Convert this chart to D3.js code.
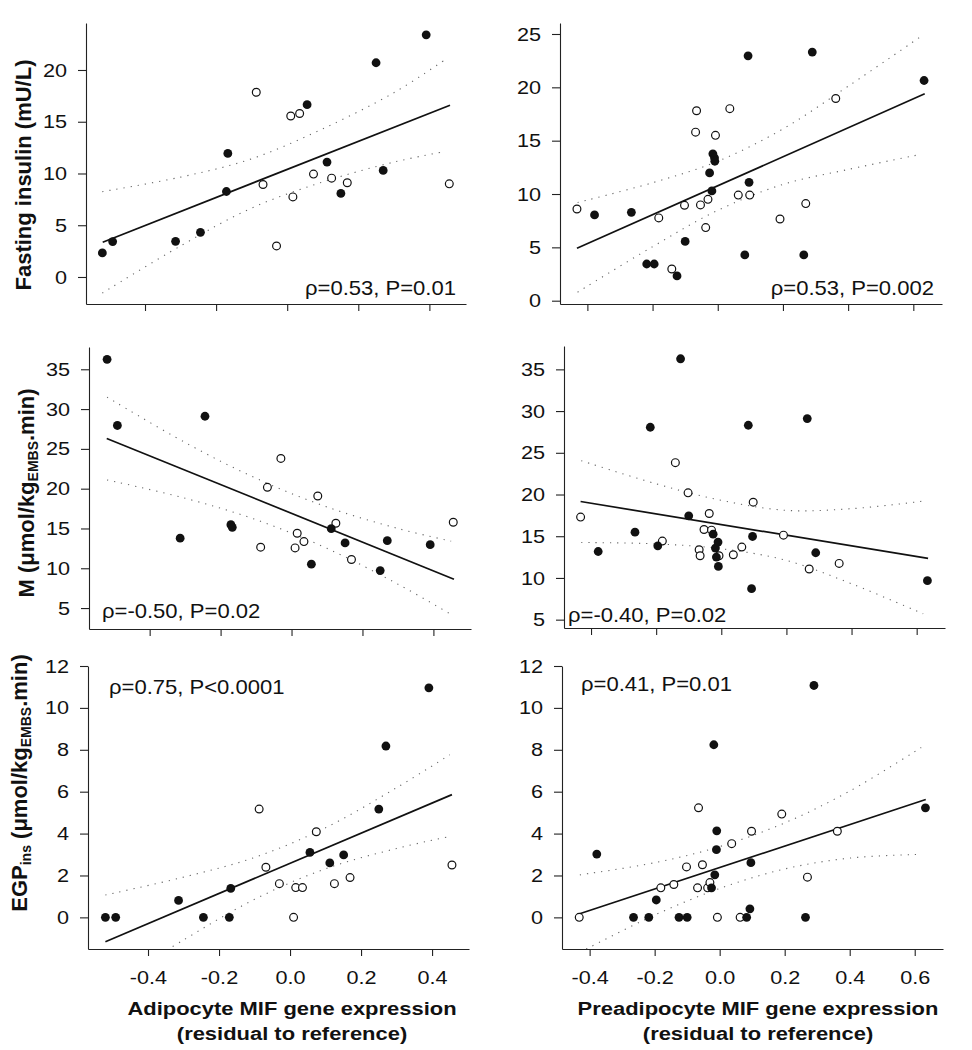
<!DOCTYPE html>
<html>
<head>
<meta charset="utf-8">
<script src="https://cdnjs.cloudflare.com/ajax/libs/d3/7.8.5/d3.min.js"></script>
<style>
  body { margin: 0; background: #fff; }
  svg text { font-family: "Liberation Sans", Arial, Helvetica, sans-serif; fill: #111; }
</style>
</head>
<body>
<script>
//-----------------------------------------data------------------------------------------
// same subjects in every panel of a column: x values are shared, y per outcome

var adipoOpenX   = [-0.087, -0.068, -0.030, 0.010, 0.016, 0.035, 0.074, 0.125, 0.169, 0.456];
var adipoFilledX = [-0.520, -0.491, -0.314, -0.244, -0.171, -0.167, 0.056, 0.112, 0.151, 0.250, 0.270, 0.391];

var preOpenX   = [-0.432, -0.181, -0.141, -0.102, -0.068, -0.065, -0.053, -0.037, -0.030, -0.007, 0.037, 0.063, 0.098, 0.191, 0.270, 0.362];
var preFilledX = [-0.378, -0.265, -0.218, -0.195, -0.125, -0.100, -0.025, -0.018, -0.015, -0.010, -0.009, 0.083, 0.093, 0.096, 0.264, 0.290, 0.633];

// fasting insulin (mU/L)
var insulinAdipoOpen   = [17.85, 8.94, 3.0, 15.55, 7.74, 15.8, 9.94, 9.55, 9.1, 9.0];
var insulinAdipoFilled = [2.32, 3.42, 3.45, 4.32, 8.26, 11.94, 16.65, 11.1, 8.07, 20.7, 10.3, 23.4];
var insulinPreOpen     = [8.6, 7.76, 2.97, 8.94, 15.8, 17.8, 8.98, 6.85, 9.5, 15.5, 18.0, 9.9, 9.9, 7.66, 9.1, 18.95];
var insulinPreFilled   = [8.04, 8.28, 3.44, 3.44, 2.32, 5.56, 11.98, 10.29, 13.77, 13.39, 13.07, 4.29, 22.95, 11.1, 4.29, 23.3, 20.64];

// M (umol/kgEMBS.min)
var mAdipoOpen   = [12.65, 20.17, 23.8, 12.56, 14.4, 13.35, 19.08, 15.65, 11.1, 15.78];
var mAdipoFilled = [36.25, 27.94, 13.78, 29.1, 15.48, 15.15, 10.52, 14.98, 13.19, 9.71, 13.47, 12.97];
var mPreOpen     = [17.29, 14.42, 23.82, 20.2, 13.38, 12.66, 15.8, 17.72, 15.73, 12.66, 12.78, 13.7, 19.08, 15.13, 11.07, 11.74];
var mPreFilled   = [13.17, 15.49, 28.06, 13.85, 36.27, 17.44, 15.25, 13.58, 12.5, 14.3, 11.38, 28.3, 8.71, 14.97, 29.1, 13.02, 9.67];

// EGPins (umol/kgEMBS.min)
var egpAdipoOpen   = [5.17, 2.39, 1.61, 0, 1.42, 1.42, 4.09, 1.61, 1.9, 2.5];
var egpAdipoFilled = [0, 0, 0.81, 0, 0, 1.38, 3.1, 2.6, 2.98, 5.17, 8.18, 10.96];
var egpPreOpen     = [0, 1.41, 1.57, 2.41, 1.41, 5.23, 2.51, 1.41, 1.66, 0, 3.52, 0, 4.11, 4.93, 1.92, 4.11];
var egpPreFilled   = [3.02, 0, 0, 0.83, 0, 0, 1.41, 8.24, 2.03, 3.23, 4.13, 0, 0.41, 2.61, 0, 11.07, 5.23];

// regression lines [x, y] ends
var insulinAdipoFit = [[-0.519, 3.36], [0.458, 16.6]];
var insulinPreFit   = [[-0.432, 4.91], [0.635, 19.39]];
var mAdipoFit       = [[-0.521, 26.31], [0.458, 8.63]];
var mPreFit         = [[-0.432, 19.16], [0.635, 12.34]];
var egpAdipoFit     = [[-0.520, -1.16], [0.456, 5.86]];
var egpPreFit       = [[-0.433, 0.16], [0.634, 5.63]];

// 95% bands: [x, lower, upper]
var insulinAdipoBand = [[-0.52, -1.55, 8.25], [-0.3, 3.0, 9.65], [-0.1, 6.66, 11.42], [0.1, 9.18, 14.32], [0.3, 11.1, 17.8], [0.44, 12.1, 20.9]];
var insulinPreBand   = [[-0.43, 0.8, 9.2], [-0.2, 5.06, 11.06], [0, 8.47, 13.07], [0.2, 10.9, 16.1], [0.4, 12.3, 20.1], [0.62, 13.7, 24.7]];
var mAdipoBand       = [[-0.52, 21.1, 31.5], [-0.3, 18.8, 25.8], [-0.1, 16.1, 21.3], [0.1, 12.5, 17.7], [0.3, 8.0, 15.0], [0.45, 4.2, 13.4]];
var mPreBand         = [[-0.43, 14.25, 24.05], [-0.2, 14.08, 21.28], [0, 13.5, 19.3], [0.2, 12.1, 18.1], [0.4, 9.3, 18.3], [0.62, 5.7, 19.2]];
var egpAdipoBand     = [[-0.52, -3.39, 1.07], [-0.3, -1.08, 1.92], [-0.1, 0.86, 2.86], [0.1, 2.32, 4.28], [0.3, 3.29, 6.19], [0.45, 3.86, 7.76]];
var egpPreBand       = [[-0.43, -1.67, 2.03], [-0.2, 0.11, 2.61], [0, 1.38, 3.38], [0.2, 2.31, 4.51], [0.4, 2.83, 6.03], [0.62, 3.01, 8.11]];

// ticks
var adipoTicks   = [-0.4, -0.2, 0.0, 0.2, 0.4];
var preTicks     = [-0.4, -0.2, 0.0, 0.2, 0.4, 0.6];
var insulinTicks = [0, 5, 10, 15, 20];
var insulinTicks2 = [0, 5, 10, 15, 20, 25];
var mTicks       = [5, 10, 15, 20, 25, 30, 35];
var egpTicks     = [0, 2, 4, 6, 8, 10, 12];

var stats = ["\u03c1=0.53, P=0.01", "\u03c1=0.53, P=0.002", "\u03c1=-0.50, P=0.02",
             "\u03c1=-0.40, P=0.02", "\u03c1=0.75, P<0.0001", "\u03c1=0.41, P=0.01"];

//-----------------------------------------SVG-------------------------------------------

var svg = d3.select("body")
  .append("svg")
  .attr("width", 972)
  .attr("height", 1050)
  .style("background", "#fff");

//-----------------------------------------panels----------------------------------------

var panels = [
  { l: 86,  r: 466, t: 23,  b: 304, xd: [-0.566, 0.503], yd: [-2.61, 24.54], xt: adipoTicks, yt: insulinTicks,
    ox: adipoOpenX, oy: insulinAdipoOpen, fx: adipoFilledX, fy: insulinAdipoFilled, fit: insulinAdipoFit, band: insulinAdipoBand,
    stat: stats[0], sx: 456, sy: 295, sa: "end", labels: false },
  { l: 560, r: 942, t: 23,  b: 304, xd: [-0.484, 0.688], yd: [-0.31, 26.03], xt: preTicks, yt: insulinTicks2,
    ox: preOpenX, oy: insulinPreOpen, fx: preFilledX, fy: insulinPreFilled, fit: insulinPreFit, band: insulinPreBand,
    stat: stats[1], sx: 934, sy: 295, sa: "end", labels: false },
  { l: 89,  r: 471, t: 347, b: 629, xd: [-0.571, 0.506], yd: [2.37, 37.8], xt: adipoTicks, yt: mTicks,
    ox: adipoOpenX, oy: mAdipoOpen, fx: adipoFilledX, fy: mAdipoFilled, fit: mAdipoFit, band: mAdipoBand,
    stat: stats[2], sx: 102, sy: 618, sa: "start", labels: false },
  { l: 564, r: 945, t: 346, b: 628, xd: [-0.483, 0.687], yd: [4.0, 37.8], xt: preTicks, yt: mTicks,
    ox: preOpenX, oy: mPreOpen, fx: preFilledX, fy: mPreFilled, fit: mPreFit, band: mPreBand,
    stat: stats[3], sx: 568, sy: 622, sa: "start", labels: false },
  { l: 88,  r: 469, t: 666, b: 949, xd: [-0.569, 0.504], yd: [-1.51, 12], xt: adipoTicks, yt: egpTicks,
    ox: adipoOpenX, oy: egpAdipoOpen, fx: adipoFilledX, fy: egpAdipoFilled, fit: egpAdipoFit, band: egpAdipoBand,
    stat: stats[4], sx: 109, sy: 694, sa: "start", labels: true },
  { l: 562, r: 943, t: 666, b: 949, xd: [-0.485, 0.687], yd: [-1.51, 12], xt: preTicks, yt: egpTicks,
    ox: preOpenX, oy: egpPreOpen, fx: preFilledX, fy: egpPreFilled, fit: egpPreFit, band: egpPreBand,
    stat: stats[5], sx: 581, sy: 691, sa: "start", labels: true }
];

// stretch horizontal text a little (the original figure is wider than tall)
function stretchText(sel, k) {
  sel.each(function() {
    var t = d3.select(this);
    var tx = +t.attr("x") || 0, ty = +t.attr("y") || 0;
    t.attr("x", 0).attr("y", 0)
     .attr("transform", "translate(" + tx + "," + ty + ") scale(" + k + ",1)");
  });
}

panels.forEach(function(p, i) {

  var x = d3.scaleLinear().domain(p.xd).range([p.l, p.r]);
  var y = d3.scaleLinear().domain(p.yd).range([p.b, p.t]);

  var g = svg.append("g").attr("class", "panel");

  g.append("clipPath")
    .attr("id", "clip" + i)
    .append("rect")
    .attr("x", p.l).attr("y", p.t)
    .attr("width", p.r - p.l).attr("height", p.b - p.t);

  //------------------------confidence bands--------------------------
  [1, 2].forEach(function(k) {
    g.append("path")
      .datum(p.band)
      .attr("clip-path", "url(#clip" + i + ")")
      .attr("fill", "none")
      .attr("stroke", "#666")
      .attr("stroke-width", 1.1)
      .attr("stroke-dasharray", "1.2,6")
      .attr("d", d3.line()
        .x(function(d) { return x(d[0]); })
        .y(function(d) { return y(d[k]); })
        .curve(d3.curveCatmullRom));
  });

  //------------------------regression line---------------------------
  g.append("path")
    .datum(p.fit)
    .attr("fill", "none")
    .attr("stroke", "#111")
    .attr("stroke-width", 1.7)
    .attr("d", d3.line()
      .x(function(d) { return x(d[0]); })
      .y(function(d) { return y(d[1]); }));

  //------------------------points------------------------------------
  g.append("g")
    .selectAll("circle")
    .data(p.ox.map(function(v, j) { return [v, p.oy[j]]; }))
    .enter().append("circle")
    .attr("cx", function(d) { return x(d[0]); })
    .attr("cy", function(d) { return y(d[1]); })
    .attr("r", 3.9)
    .attr("fill", "#fff")
    .attr("stroke", "#111")
    .attr("stroke-width", 1.2);

  g.append("g")
    .selectAll("circle")
    .data(p.fx.map(function(v, j) { return [v, p.fy[j]]; }))
    .enter().append("circle")
    .attr("cx", function(d) { return x(d[0]); })
    .attr("cy", function(d) { return y(d[1]); })
    .attr("r", 4.4)
    .attr("fill", "#111");

  //------------------------axes--------------------------------------
  var yAxis = g.append("g")
    .attr("transform", "translate(" + p.l + ",0)")
    .style("color", "#222")
    .call(d3.axisLeft(y).tickValues(p.yt).tickSize(8).tickPadding(11).tickSizeOuter(0)
      .tickFormat(function(d) { return String(d); }));

  var xAxis = g.append("g")
    .attr("transform", "translate(0," + p.b + ")")
    .style("color", "#222")
    .call(d3.axisBottom(x).tickValues(p.xt).tickSize(7).tickPadding(15).tickSizeOuter(0)
      .tickFormat(function(d) { return p.labels ? d.toFixed(1) : ""; }));

  [yAxis, xAxis].forEach(function(a) {
    a.selectAll("path, line").attr("stroke-width", 1.1);
    var txt = a.selectAll(".tick text").attr("font-size", 19).style("fill", "#111");
    stretchText(txt, 1.14);
  });

  //------------------------statistics--------------------------------
  g.append("text")
    .attr("x", p.sx).attr("y", p.sy)
    .attr("text-anchor", p.sa)
    .attr("font-size", 21)
    .text(p.stat)
    .call(stretchText, 1.05);
});

//-----------------------------------------axis titles-----------------------------------

function yTitle(bx, cy, parts) {
  var t = svg.append("text")
    .attr("transform", "translate(" + bx + "," + cy + ") rotate(-90)")
    .attr("text-anchor", "middle")
    .attr("font-size", 22)
    .attr("font-weight", "bold");
  parts.forEach(function(part) {
    var s = t.append("tspan").text(part.text);
    if (part.sub) s.attr("font-size", 14).attr("dy", 4);
    else if (part.back) s.attr("dy", -4);
  });
}

yTitle(31, 175, [{ text: "Fasting insulin (mU/L)" }]);
yTitle(34, 493, [{ text: "M (\u03bcmol/kg" }, { text: "EMBS", sub: true }, { text: ".min)", back: true }]);
yTitle(27, 783, [{ text: "EGP" }, { text: "ins", sub: true }, { text: " (\u03bcmol/kg", back: true },
                 { text: "EMBS", sub: true }, { text: ".min)", back: true }]);

var xTitles = [
  { cx: 292, lines: ["Adipocyte MIF gene expression", "(residual to reference)"] },
  { cx: 758, lines: ["Preadipocyte MIF gene expression", "(residual to reference)"] }
];

xTitles.forEach(function(xt) {
  xt.lines.forEach(function(line, k) {
    svg.append("text")
      .attr("x", xt.cx).attr("y", 1015 + k * 25)
      .attr("text-anchor", "middle")
      .attr("font-size", 18.6)
      .attr("font-weight", "bold")
      .text(line)
      .call(stretchText, 1.18);
  });
});
</script>
</body>
</html>
